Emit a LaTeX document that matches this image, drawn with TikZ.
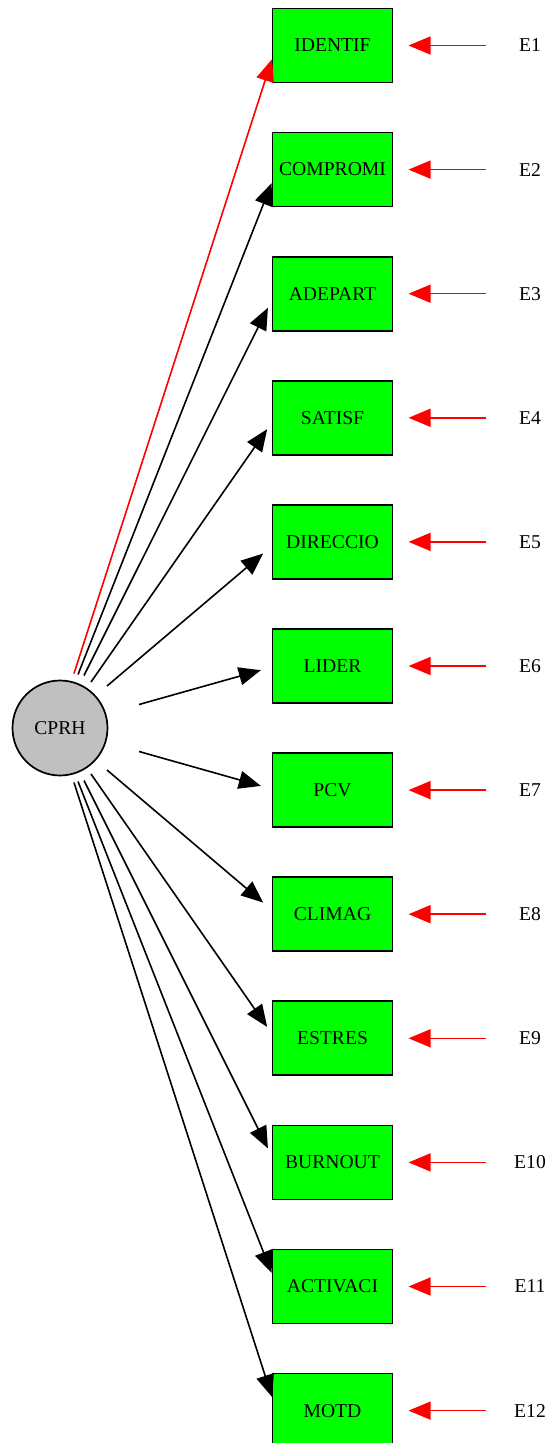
\documentclass[tikz,border=0pt]{standalone}
\usepackage{fontspec}
\setmainfont{Liberation Serif}
\usetikzlibrary{arrows.meta,calc}
\definecolor{latentfill}{RGB}{192,192,192}
\definecolor{obsfill}{RGB}{0,255,0}
\begin{document}
\begin{tikzpicture}[x=0.5pt,y=-0.5pt,
  lbl/.style={font=\fontsize{9.8}{11}\selectfont},
  obs/.style={lbl,draw=black,line width=0.85pt,fill=obsfill,
    minimum width=60pt,minimum height=37pt,inner sep=0pt},
  latent/.style={lbl,circle,draw=black,line width=0.85pt,fill=latentfill,
    minimum size=47.5pt,inner sep=0pt},
  err/.style={lbl,minimum width=43.3pt,inner sep=0pt},
  tip/.style={-{Triangle[length=11pt,width=9pt]}},
  load/.style={tip,line width=0.8pt},
  errarrow/.style={tip,line width=0.8pt,draw=red,shorten >=7.6pt}]
\useasboundingbox (0,0) rectangle (550,1443);

% latent factor
\node[latent] (cprh) at (60,728) {CPRH};

% observed indicators and their error terms
\foreach \i/\lab in {1/IDENTIF,2/COMPROMI,3/ADEPART,4/SATISF,5/DIRECCIO,6/LIDER,
                     7/PCV,8/CLIMAG,9/ESTRES,10/BURNOUT,11/ACTIVACI,12/MOTD}{
  \node[obs] (b\i) at (332.5,{45.5+124.1*(\i-1)}) {\lab};
  \node[err] (e\i) at (530,{45.5+124.1*(\i-1)}) {E\i};
  \draw[errarrow] (e\i.west) -- (b\i.east);
}

% factor loadings
\foreach \i/\sx/\sy/\tx/\ty/\c in {
   1/14/-54.5/0.3/13.8/red,
   2/18/-53.5/0/13.6/black,
   3/24/-52.5/-3.7/14/black,
   4/31/-46/-4.5/11.4/black,
   5/47/-42/-8.5/11.6/black,
   6/79/-23.5/-10.8/4.2/black,
   7/79/23.5/-10.8/-4.2/black,
   8/47/42/-8.5/-11.6/black,
   9/31/46/-4.5/-11.4/black,
  10/24/52.5/-3.7/-14/black,
  11/18/53.5/0/-13.6/black,
  12/14/54.5/0.3/-13.8/black}{
  \draw[load,draw=\c] ($(cprh.center)+(\sx,\sy)$) -- ($(b\i.west)+(\tx,\ty)$);
}
\end{tikzpicture}
\end{document}
